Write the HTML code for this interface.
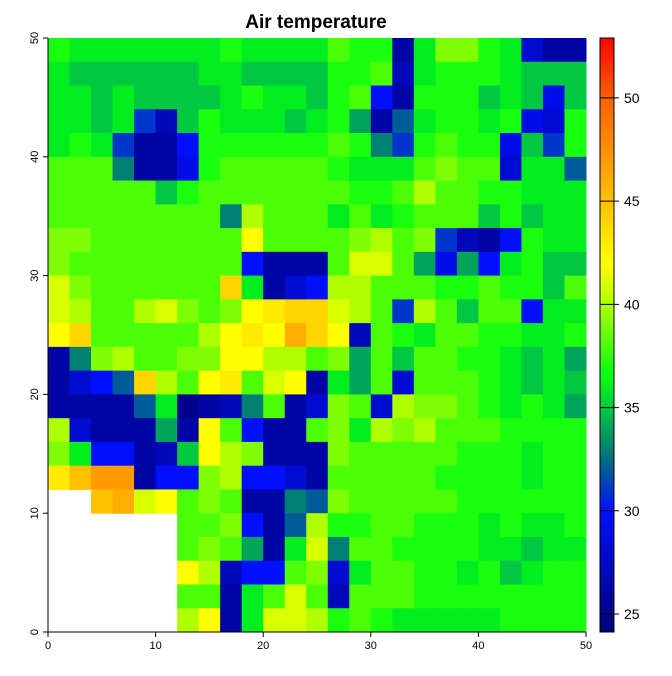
<!DOCTYPE html>
<html><head><meta charset="utf-8"><style>
body{margin:0;background:#fff;}
svg text{font-family:"Liberation Sans",sans-serif;}
</style></head><body>
<svg id="chart" width="672" height="671" viewBox="0 0 672 671" xmlns="http://www.w3.org/2000/svg">
<text x="316" y="28" text-anchor="middle" font-size="19" font-weight="bold">Air temperature</text>
<g id="cells"></g>
<g id="axes"></g>
<g id="legend"></g>
</svg>
<script>
const xTicks = [0, 10, 20, 30, 40, 50];
const yTicks = [0, 10, 20, 30, 40, 50];
const legendTicks = [25, 30, 35, 40, 45, 50];
const N = null;
const r00 = [37,36,36,36,36,36,36,36,37,36,36,36,36,38,37,37,26,36,39,39,37,36,28,26,26];
const r01 = [36,35,35,35,35,35,35,36,36,35,35,35,35,37,37,38,27,36,37,37,37,36,35,35,35];
const r02 = [36,36,35,36,35,35,35,35,36,37,36,36,35,37,38,30,26,37,37,37,35,36,35,29,35];
const r03 = [36,36,35,36,31,27,35,37,36,36,36,35,36,37,34,26,32,36,37,37,36,37,29,28,37];
const r04 = [36,37,36,31,26,26,30,37,37,37,37,37,37,38,37,33,31,37,38,37,37,29,35,31,37];
const r05 = [38,38,38,33,26,26,29,37,38,38,38,38,38,37,36,36,36,38,39,38,38,28,36,36,32];
const r06 = [38,38,38,38,38,35,37,38,38,38,38,38,38,38,37,37,38,40,38,38,37,37,36,36,36];
const r07 = [38,38,38,38,38,38,38,38,33,40,38,38,38,36,38,36,37,38,38,38,35,37,35,36,36];
const r08 = [39,39,38,38,38,38,38,38,38,42,38,38,38,38,39,40,38,39,31,27,26,30,37,36,36];
const r09 = [39,38,38,38,38,38,38,38,38,30,26,26,26,38,41,41,38,34,29,34,30,36,37,35,35];
const r10 = [41,39,38,38,38,38,38,38,44,36,26,28,30,40,40,38,38,38,37,37,38,37,37,35,38];
const r11 = [41,40,38,38,40,41,39,38,39,42,43,44,44,41,40,38,31,40,38,35,38,38,30,36,36];
const r12 = [42,44,38,38,38,38,38,40,42,43,42,46,44,42,27,38,37,36,38,38,37,37,36,36,37];
const r13 = [26,33,39,40,38,38,39,39,42,42,40,40,38,39,34,38,35,38,38,37,37,36,35,36,34];
const r14 = [26,28,30,32,44,40,38,42,43,38,41,42,26,36,34,38,28,38,38,38,37,36,35,36,35];
const r15 = [26,26,26,26,32,36,25,26,27,33,38,26,28,39,38,28,40,39,39,38,37,36,37,36,34];
const r16 = [40,28,26,26,26,34,26,42,38,30,26,26,38,39,36,40,39,40,38,38,38,37,37,37,37];
const r17 = [39,36,30,30,26,27,35,42,40,39,26,26,26,39,38,38,38,38,38,37,37,37,36,37,37];
const r18 = [43,45,47,47,26,30,30,39,40,30,30,28,26,38,38,38,38,38,37,37,37,37,36,37,37];
const r19 = [N,N,45,46,41,42,38,39,38,26,26,33,32,39,38,38,38,38,38,37,37,37,37,37,37];
const r20 = [N,N,N,N,N,N,38,38,39,30,26,32,40,37,37,38,38,37,37,37,36,37,36,36,37];
const r21 = [N,N,N,N,N,N,38,39,38,34,26,36,41,33,38,38,37,37,37,37,36,36,35,36,36];
const r22 = [N,N,N,N,N,N,42,40,27,30,30,38,39,28,36,38,38,37,37,36,37,35,36,37,37];
const r23 = [N,N,N,N,N,N,38,38,26,36,38,41,38,27,38,38,38,37,37,37,37,37,37,37,37];
const r24 = [N,N,N,N,N,N,40,42,26,36,41,41,40,37,38,37,36,36,36,36,36,37,37,37,37];
const rows = [r00,r01,r02,r03,r04,r05,r06,r07,r08,r09,r10,r11,r12,r13,r14,r15,r16,r17,r18,r19,r20,r21,r22,r23,r24];

const NS = "http://www.w3.org/2000/svg";
const X0 = 48, X1 = 586, Y0 = 632, Y1 = 38;
const xs = v => X0 + (v / 50) * (X1 - X0);
const ys = v => Y0 - (v / 50) * (Y0 - Y1);
const vMin = 24.13, vMax = 52.9;
const ly = v => 632 - (v - vMin) / (vMax - vMin) * (632 - 38);
const stops = [[24.1,[0,0,120]],[30,[0,16,255]],[32.5,[0,110,128]],[35,[0,200,64]],[36.5,[0,255,16]],[40,[176,255,0]],[42,[255,255,0]],[45,[255,192,0]],[50,[255,96,0]],[53,[255,0,0]]];
function col(v){
  if (v <= stops[0][0]) return `rgb(${stops[0][1]})`;
  for (let i=1;i<stops.length;i++){
    if (v <= stops[i][0]){
      const t=(v-stops[i-1][0])/(stops[i][0]-stops[i-1][0]);
      const a=stops[i-1][1], b=stops[i][1];
      return `rgb(${a.map((c,k)=>Math.round(c+(b[k]-c)*t)).join(',')})`;
    }
  }
  return "rgb(255,0,0)";
}
function mk(tag, attrs, parent){const e=document.createElementNS(NS,tag);for(const k in attrs)e.setAttribute(k,attrs[k]);parent.appendChild(e);return e;}

const cells = document.getElementById('cells');
const nr = rows.length;
rows.forEach((row, ri) => {
  const nc = row.length;
  row.forEach((v, ci) => {
    if (v === null) return;
    const cw = 50 / nc, ch = 50 / nr;
    const yTop = 50 - ri * ch;
    const xa = xs(ci * cw), xb = xs((ci + 1) * cw);
    const ya = ys(yTop), yb = ys(yTop - ch);
    const r = mk('rect', {x: xa, y: ya, width: xb - xa + 0.5, height: yb - ya + 0.5, fill: col(v)}, cells);
    
    
  });
});

const axes = document.getElementById('axes');
const xl = mk('line', {x1: xs(0), y1: Y0, x2: xs(50), y2: Y0, stroke: '#000'}, axes);


xTicks.forEach(t => {
  const l = mk('line', {x1: xs(t), y1: Y0, x2: xs(t), y2: Y0 + 5, stroke: '#000'}, axes);
  
  
  const tx = mk('text', {x: xs(t), y: Y0 + 17, 'text-anchor': 'middle', 'font-size': '11'}, axes);
  tx.textContent = t;
  
  
});
const yl = mk('line', {x1: X0, y1: ys(0), x2: X0, y2: ys(50), stroke: '#000'}, axes);


yTicks.forEach(t => {
  const l = mk('line', {x1: X0 - 5, y1: ys(t), x2: X0, y2: ys(t), stroke: '#000'}, axes);
  
  
  const tx = mk('text', {x: 38, y: ys(t), 'text-anchor': 'middle', 'font-size': '11', transform: `rotate(-90 38 ${ys(t)})`}, axes);
  tx.textContent = t;
  
  
});

const lg = document.getElementById('legend');
for (let p = 38; p < 632; p += 2) {
  const v = vMax - (p + 1 - 38) / (632 - 38) * (vMax - vMin);
  const r = mk('rect', {x: 600, y: p, width: 14, height: 2.3, fill: col(v)}, lg);
  
  
}
const fr = mk('rect', {x: 600, y: 38, width: 14, height: 594, fill: 'none', stroke: '#000'}, lg);


legendTicks.forEach(t => {
  const l = mk('line', {x1: 600, y1: ly(t), x2: 619, y2: ly(t), stroke: '#000'}, lg);
  
  
  const tx = mk('text', {x: 624, y: ly(t) + 5, 'font-size': '14'}, lg);
  tx.textContent = t;
  
  
});
</script>
</body></html>
